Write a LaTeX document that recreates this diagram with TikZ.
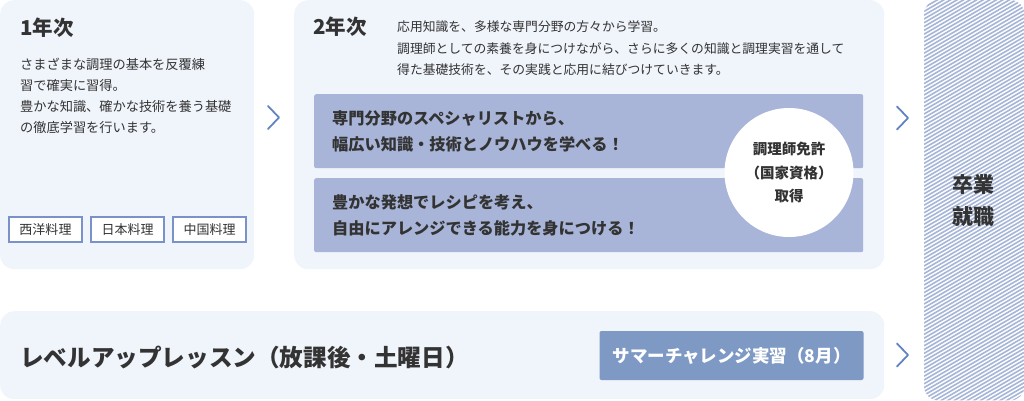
\documentclass[tikz,border=0pt]{standalone}
\usepackage{fontspec}
\setmainfont{Noto Sans CJK JP}
\usetikzlibrary{positioning}
\definecolor{panelbg}{RGB}{240,244,251}
\definecolor{bandbg}{RGB}{168,181,216}
\definecolor{summerbg}{RGB}{127,153,197}
\definecolor{tagline}{RGB}{122,146,199}
\definecolor{chevcol}{RGB}{98,131,194}
\definecolor{stripecol}{RGB}{166,182,216}
\definecolor{txt}{RGB}{51,51,51}
\begin{document}
\begin{tikzpicture}[x=1pt,y=-1pt]
  \tikzstyle{every node}=[inner sep=0pt,text=txt]
  \tikzstyle{panel}=[fill=panelbg,rounded corners=14pt,anchor=north west]
  \tikzstyle{band}=[fill=bandbg,rounded corners=2pt,anchor=north west,minimum width=549,minimum height=74]
  \tikzstyle{tag}=[draw=tagline,line width=2pt,fill=white,minimum width=72.5,minimum height=25,font=\fontsize{13}{13}\selectfont]
  \tikzstyle{title}=[anchor=west,font=\fontsize{20.5}{20.5}\selectfont\bfseries]
  \tikzstyle{para}=[anchor=north west,align=left]
  \tikzstyle{bandtext}=[anchor=west,align=left,font=\fontsize{16.2}{26}\selectfont\bfseries]
  \tikzstyle{chev}=[draw=chevcol,line width=1.8pt,line cap=round,line join=round]
  \tikzstyle{stripe}=[draw=stripecol,line width=1.6pt]
  \useasboundingbox (0,0) rectangle (1024,400);
  \node[panel,minimum width=254,minimum height=269] (year1) at (0,0) {};
  \node[panel,minimum width=590,minimum height=269] (year2) at (294,0) {};
  \node[panel,minimum width=884,minimum height=88] (lesson) at (0,311) {};
  \node[panel,fill=white,minimum width=100,minimum height=400] (goal) at (924,0) {};
  \begin{scope}
    \clip[rounded corners=14pt] (goal.north west) rectangle (goal.south east);
    \foreach \i in {0,3.8,...,465}
      \draw[stripe] (924,\i) -- ++(100,-58);
  \end{scope}
  \node[align=center,font=\fontsize{21}{32}\selectfont\bfseries] (goaltext) at (973.5,201) {卒業\\就職};

  \node[title] (title1) at (20,28) {1年次};
  \node[para,font=\fontsize{13.2}{21.3}\selectfont] (text1) at (20,57.5)
    {さまざまな調理の基本を反覆練\\習で確実に習得。\\豊かな知識、確かな技術を養う基礎\\の徹底学習を行います。};
  \node[tag] (western) at (45.5,229.5) {西洋料理};
  \node[tag,right=7.5pt of western] (japanese) {日本料理};
  \node[tag,right=7.5pt of japanese] (chinese) {中国料理};

  \node[title] (title2) at (313,27) {2年次};
  \node[para,font=\fontsize{12.8}{21.5}\selectfont] (text2) at (397,20.6)
    {応用知識を、多様な専門分野の方々から学習。\\調理師としての素養を身につけながら、さらに多くの知識と調理実習を通して\\得た基礎技術を、その実践と応用に結びつけていきます。};
  \node[band] (band1) at (314,94) {};
  \node[band] (band2) at (314,178) {};
  \node[bandtext] (bandtext1) at (332,131) {専門分野のスペシャリストから、\\幅広い知識・技術とノウハウを学べる！};
  \node[bandtext] (bandtext2) at (332,215) {豊かな発想でレシピを考え、\\自由にアレンジできる能力を身につける！};
  \node[circle,fill=white,minimum size=129,align=center,font=\fontsize{14.5}{23.5}\selectfont\bfseries] (license) at (789,172.5)
    {調理師免許\\（国家資格）\\取得};

  \node[anchor=west,font=\fontsize{23.6}{23.6}\selectfont\bfseries] (lessontext) at (20,357) {レベルアップレッスン（放課後・土曜日）};
  \node[fill=summerbg,rounded corners=2pt,minimum width=264,minimum height=49,text=white,font=\fontsize{17.5}{17.5}\selectfont\bfseries] (summer) at (731.5,355.5) {サマーチャレンジ実習（8月）};

  \foreach \cx/\cy in {268/117.5,897/118,897/355}
    \draw[chev] (\cx,\cy-11.5) -- (\cx+11,\cy) -- (\cx,\cy+11.5);
\end{tikzpicture}
\end{document}
